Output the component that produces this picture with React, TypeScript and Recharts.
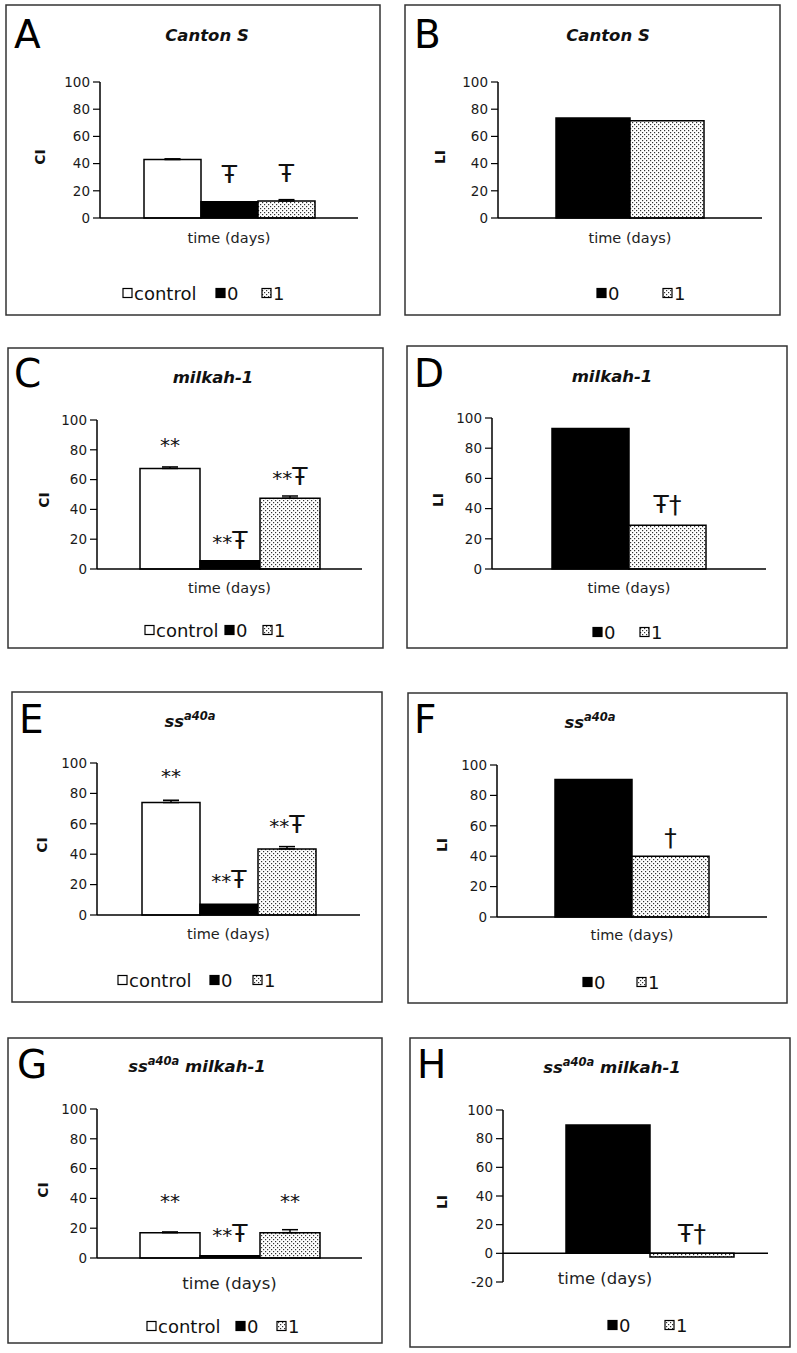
import React from "react"
import { Bar, BarChart, ErrorBar, LabelList, ReferenceLine, XAxis, YAxis } from "recharts"

const FONT = '"DejaVu Sans", sans-serif'

const category = "time (days)"
const ciSeries = ["control", "0", "1"]
const liSeries = ["0", "1"]
const yTicks = [0, 20, 40, 60, 80, 100]
const yTicksNeg = [-20, 0, 20, 40, 60, 80, 100]

// CI values (panels A, C, E, G): control, day 0, day 1
const ciCantonS = [43, 12, 12.5]
const ciCantonSErr = [0.5, 0, 1]
const ciMilkah = [67.5, 5.5, 47.5]
const ciMilkahErr = [1, 0, 1.5]
const ciSs = [74, 7, 43.5]
const ciSsErr = [1.5, 0, 1.5]
const ciSsMilkah = [17, 1.5, 17]
const ciSsMilkahErr = [0.5, 0, 2]

// LI values (panels B, D, F, H): day 0, day 1
const liCantonS = [73.5, 71.5]
const liMilkah = [93, 29]
const liSs = [90.5, 40]
const liSsMilkah = [89.5, -2.5]

// significance marks above the bars
const marksCantonS = ["", "Ŧ", "Ŧ"]
const marksMilkah = ["**", "**Ŧ", "**Ŧ"]
const marksSs = ["**", "**Ŧ", "**Ŧ"]
const marksSsMilkah = ["**", "**Ŧ", "**"]
const marksLiMilkah = ["", "Ŧ†"]
const marksLiSs = ["", "†"]
const marksLiSsMilkah = ["", "Ŧ†"]

const fills: Record<string, string> = { control: "#fff", "0": "#000", "1": "url(#dots)" }

type Title = { pre: string; sup?: string; post?: string }

const panels = [
  {
    letter: "A", letterPos: [14, 48], title: { pre: "Canton S" } as Title, titlePos: [207, 41],
    yLabel: "CI", yLabelPos: [40, 157], box: [6, 5, 374, 310],
    plot: { x: 100, top: 82, bottom: 218, right: 358 }, barSize: 57,
    series: ciSeries, values: ciCantonS, errors: ciCantonSErr, marks: marksCantonS, gaps: [0, 19, 19],
    xTick: { dx: 0, dy: 20, fs: 14.5 }, legendXs: [123, 216, 262], legendY: 293,
  },
  {
    letter: "B", letterPos: [414, 48], title: { pre: "Canton S" } as Title, titlePos: [608, 41],
    yLabel: "LI", yLabelPos: [440, 157], box: [405, 5, 375, 310],
    plot: { x: 498, top: 82, bottom: 218, right: 762 }, barSize: 74,
    series: liSeries, values: liCantonS, errors: null, marks: ["", ""], gaps: [0, 0],
    xTick: { dx: 0, dy: 20, fs: 14.5 }, legendXs: [597, 663], legendY: 293,
  },
  {
    letter: "C", letterPos: [14, 387], title: { pre: "milkah-1" } as Title, titlePos: [213, 383],
    yLabel: "CI", yLabelPos: [44, 500], box: [8, 348, 375, 300],
    plot: { x: 97, top: 420, bottom: 569, right: 362 }, barSize: 60,
    series: ciSeries, values: ciMilkah, errors: ciMilkahErr, marks: marksMilkah, gaps: [16, 12, 13],
    xTick: { dx: 0, dy: 19, fs: 14.5 }, legendXs: [145, 225, 263], legendY: 630,
  },
  {
    letter: "D", letterPos: [414, 387], title: { pre: "milkah-1" } as Title, titlePos: [612, 382],
    yLabel: "LI", yLabelPos: [438, 500], box: [407, 346, 380, 302],
    plot: { x: 492, top: 418, bottom: 569, right: 766 }, barSize: 77,
    series: liSeries, values: liMilkah, errors: null, marks: marksLiMilkah, gaps: [0, 12],
    xTick: { dx: 0, dy: 19, fs: 14.5 }, legendXs: [593, 640], legendY: 632,
  },
  {
    letter: "E", letterPos: [19, 733], title: { pre: "ss", sup: "a40a" } as Title, titlePos: [190, 727],
    yLabel: "CI", yLabelPos: [42, 845], box: [12, 692, 370, 310],
    plot: { x: 97, top: 763, bottom: 915, right: 360 }, barSize: 58,
    series: ciSeries, values: ciSs, errors: ciSsErr, marks: marksSs, gaps: [20, 16, 16],
    xTick: { dx: 0, dy: 19, fs: 14.5 }, legendXs: [118, 210, 253], legendY: 980,
  },
  {
    letter: "F", letterPos: [414, 733], title: { pre: "ss", sup: "a40a" } as Title, titlePos: [590, 728],
    yLabel: "LI", yLabelPos: [442, 845], box: [408, 693, 379, 310],
    plot: { x: 497, top: 765, bottom: 917, right: 767 }, barSize: 77,
    series: liSeries, values: liSs, errors: null, marks: marksLiSs, gaps: [0, 10],
    xTick: { dx: 0, dy: 18, fs: 14.5 }, legendXs: [583, 637], legendY: 982,
  },
  {
    letter: "G", letterPos: [17, 1078], title: { pre: "ss", sup: "a40a", post: " milkah-1" } as Title, titlePos: [197, 1072],
    yLabel: "CI", yLabelPos: [43, 1190], box: [8, 1038, 374, 305],
    plot: { x: 97, top: 1109, bottom: 1258, right: 362 }, barSize: 60,
    series: ciSeries, values: ciSsMilkah, errors: ciSsMilkahErr, marks: marksSsMilkah, gaps: [25, 14, 25],
    xTick: { dx: 0, dy: 25, fs: 16.5 }, legendXs: [147, 236, 277], legendY: 1326,
  },
  {
    letter: "H", letterPos: [417, 1078], title: { pre: "ss", sup: "a40a", post: " milkah-1" } as Title, titlePos: [612, 1073],
    yLabel: "LI", yLabelPos: [442, 1202], box: [410, 1038, 380, 309],
    plot: { x: 503, top: 1110, bottom: 1282, right: 768 }, barSize: 84, negative: true,
    series: liSeries, values: liSsMilkah, errors: null, marks: marksLiSsMilkah, gaps: [0, 11],
    xTick: { dx: -45, dy: -4, fs: 16.5 }, legendXs: [608, 665], legendY: 1325,
  },
]

type PanelCfg = (typeof panels)[number] & { negative?: boolean }

// asterisks at text size, the Ŧ / † glyphs drawn taller like in the source figure
function renderMark(p: any, text: string, gap: number) {
  const top = Math.min(p.y, p.y + p.height)
  return (
    <text x={p.x + p.width / 2} y={top - gap} textAnchor="middle" fill="#111" fontFamily={FONT}>
      {Array.from(text).map((ch, k) => (
        <tspan key={k} fontSize={ch === "*" ? 20 : 25}>{ch}</tspan>
      ))}
    </text>
  )
}

function PanelChart({ cfg }: { cfg: PanelCfg }) {
  const row: any = { name: category }
  cfg.series.forEach((_, i) => {
    row[`v${i}`] = cfg.values[i]
    row[`e${i}`] = [0, cfg.errors ? cfg.errors[i] : 0]
  })
  const plotW = cfg.plot.right - cfg.plot.x
  const plotH = cfg.plot.bottom - cfg.plot.top
  const { dx, dy, fs } = cfg.xTick

  return (
    <div style={{ position: "absolute", left: cfg.plot.x - 60, top: cfg.plot.top - 10 }}>
      <BarChart
        width={60 + plotW + 10}
        height={10 + plotH + 40}
        data={[row]}
        margin={{ top: 10, right: 10, left: 0, bottom: 0 }}
        barGap={0}
        barSize={cfg.barSize}
      >
        <XAxis
          dataKey="name"
          height={40}
          axisLine={cfg.negative ? false : { stroke: "#000", strokeWidth: 1.5 }}
          tickLine={false}
          tickSize={0}
          tickMargin={0}
          padding={cfg.negative ? { left: 29, right: 0 } : { left: 0, right: 0 }}
          tick={(t: any) => (
            <text x={t.x + dx} y={t.y + dy} textAnchor="middle" dominantBaseline="central" fontSize={fs} fill="#222" fontFamily={FONT}>
              {t.payload.value}
            </text>
          )}
        />
        <YAxis
          width={60}
          domain={cfg.negative ? [-20, 100] : [0, 100]}
          ticks={cfg.negative ? yTicksNeg : yTicks}
          interval={0}
          tickSize={7}
          tickMargin={3}
          axisLine={{ stroke: "#000", strokeWidth: 1.5 }}
          tickLine={{ stroke: "#000", strokeWidth: 1.2 }}
          tick={{ fontSize: 13.5, fill: "#1a1a1a", fontFamily: FONT }}
        />
        {cfg.series.map((s, i) => (
          <Bar key={s} dataKey={`v${i}`} name={s} fill={fills[s]} stroke="#000" strokeWidth={1.5} isAnimationActive={false}>
            {cfg.errors && cfg.errors[i] > 0 && (
              <ErrorBar dataKey={`e${i}`} width={8} stroke="#000" strokeWidth={1.5} direction="y" />
            )}
            {cfg.marks[i] && <LabelList content={(p: any) => renderMark(p, cfg.marks[i], cfg.gaps[i])} />}
          </Bar>
        ))}
        {cfg.negative && <ReferenceLine y={0} stroke="#000" strokeWidth={1.5} />}
      </BarChart>
    </div>
  )
}

function PanelFrame({ cfg }: { cfg: PanelCfg }) {
  const [bx, by, bw, bh] = cfg.box
  const [tx, ty] = cfg.titlePos
  const [lx, ly] = cfg.yLabelPos
  return (
    <g fontFamily={FONT}>
      <rect x={bx} y={by} width={bw} height={bh} fill="none" stroke="#333" strokeWidth={1.5} />
      <text x={cfg.letterPos[0]} y={cfg.letterPos[1]} fontSize={39} fill="#000">{cfg.letter}</text>
      <text x={tx} y={ty} textAnchor="middle" fontSize={16.5} fontWeight="bold" fontStyle="italic" fill="#111">
        {cfg.title.pre}
        {cfg.title.sup && <tspan dy={-7} fontSize={11.5}>{cfg.title.sup}</tspan>}
        {cfg.title.post && <tspan dy={7}>{cfg.title.post}</tspan>}
      </text>
      <text
        x={lx}
        y={ly}
        transform={`rotate(-90 ${lx} ${ly})`}
        textAnchor="middle"
        dominantBaseline="central"
        fontSize={14}
        fontWeight="bold"
        fill="#111"
      >
        {cfg.yLabel}
      </text>
      {cfg.series.map((s, i) => (
        <g key={s}>
          <rect x={cfg.legendXs[i]} y={cfg.legendY - 4.5} width={9} height={9} fill={fills[s]} stroke="#000" strokeWidth={1.2} />
          <text x={cfg.legendXs[i] + 11} y={cfg.legendY + 6.5} fontSize={18} fill="#111">{s}</text>
        </g>
      ))}
    </g>
  )
}

export default function App() {
  return (
    <div style={{ position: "absolute", left: 0, top: 0, width: 797, height: 1353, background: "#fff" }}>
      <svg width={797} height={1353} style={{ position: "absolute", left: 0, top: 0 }}>
        <defs>
          <pattern id="dots" width="4" height="4" patternUnits="userSpaceOnUse">
            <rect width="4" height="4" fill="#fff" />
            <rect x="0" y="0" width="1.2" height="1.2" fill="#333" />
            <rect x="2" y="2" width="1.2" height="1.2" fill="#333" />
          </pattern>
        </defs>
        {panels.map((p) => (
          <PanelFrame key={p.letter} cfg={p} />
        ))}
      </svg>
      {panels.map((p) => (
        <PanelChart key={p.letter} cfg={p} />
      ))}
    </div>
  )
}
